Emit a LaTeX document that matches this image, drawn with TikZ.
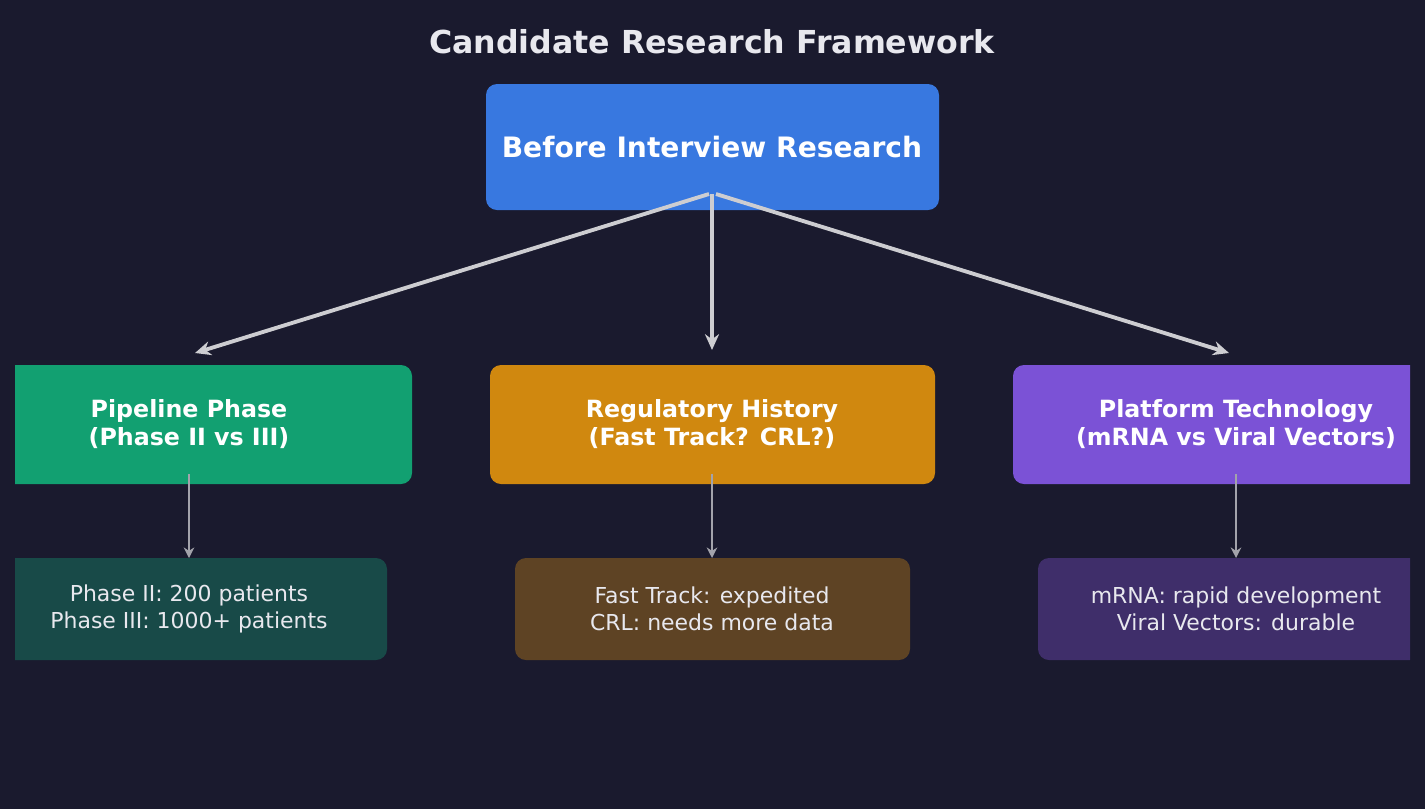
\documentclass[tikz,border=0pt]{standalone}
\usepackage{fontspec}
\setmainfont{DejaVu Sans}
\usetikzlibrary{arrows.meta}
\definecolor{bg}{HTML}{1A1A2E}
\definecolor{ctop}{HTML}{3878E0}
\definecolor{cg}{HTML}{12A071}
\definecolor{co}{HTML}{D0880F}
\definecolor{cp}{HTML}{7B52D6}
\definecolor{dg}{HTML}{184A48}
\definecolor{dob}{HTML}{5E4324}
\definecolor{dp}{HTML}{3F2E6A}
\definecolor{tx}{HTML}{E8E8EE}
\begin{document}
\begin{tikzpicture}[x=0.02cm,y=-0.02cm,
  box/.style={rounded corners=0.22cm},
  big/.style={-{Stealth[length=9pt,width=8pt]},draw=white!78!bg,line width=2.2pt},
  small/.style={-{Stealth[length=6pt,width=6pt]},draw=white!60!bg,line width=1.2pt},
  mt/.style={text=white,font=\bfseries\fontsize{13.5}{16}\selectfont,align=center},
  bt/.style={text=tx,font=\fontsize{12.5}{15.5}\selectfont,align=center}]
\fill[bg] (0,0) rectangle (1425,809);
\useasboundingbox (0,0) rectangle (1425,809);
\node[text=tx,font=\bfseries\fontsize{18}{22}\selectfont] (title) at (712,42) {Candidate Research Framework};
\fill[ctop,box] (486,84) rectangle (939,210);
\node[text=white,font=\bfseries\fontsize{16}{20}\selectfont] (top) at (712,147) {Before Interview Research};
\begin{scope}
\clip (15,0) rectangle (1410,809);
\fill[cg,box] (-34,365) rectangle (412,484);
\fill[co,box] (490,365) rectangle (935,484);
\fill[cp,box] (1013,365) rectangle (1459,484);
\fill[dg,box] (-9,558) rectangle (387,660);
\fill[dob,box] (515,558) rectangle (910,660);
\fill[dp,box] (1038,558) rectangle (1434,660);
\end{scope}
\node[mt] (m1) at (189,424) {Pipeline Phase\\(Phase II vs III)};
\node[mt] (m2) at (712,424) {Regulatory History\\(Fast Track? CRL?)};
\node[mt] (m3) at (1236,424) {Platform Technology\\(mRNA vs Viral Vectors)};
\node[bt] (b1) at (189,609) {Phase II: 200 patients\\Phase III: 1000+ patients};
\node[bt] (b2) at (712,609) {Fast Track: expedited\\CRL: needs more data};
\node[bt] (b3) at (1236,609) {mRNA: rapid development\\Viral Vectors: durable};
\coordinate (s1) at (709,194); \coordinate (e1) at (195,353);
\coordinate (s2) at (712,194); \coordinate (e2) at (712,350);
\coordinate (s3) at (716,194); \coordinate (e3) at (1229,353);
\draw[big] (s1) -- (e1);
\draw[big] (s2) -- (e2);
\draw[big] (s3) -- (e3);
\coordinate (t1) at (189,474); \coordinate (u1) at (189,558);
\coordinate (t2) at (712,474); \coordinate (u2) at (712,558);
\coordinate (t3) at (1236,474); \coordinate (u3) at (1236,558);
\draw[small] (t1) -- (u1);
\draw[small] (t2) -- (u2);
\draw[small] (t3) -- (u3);
\end{tikzpicture}
\end{document}
